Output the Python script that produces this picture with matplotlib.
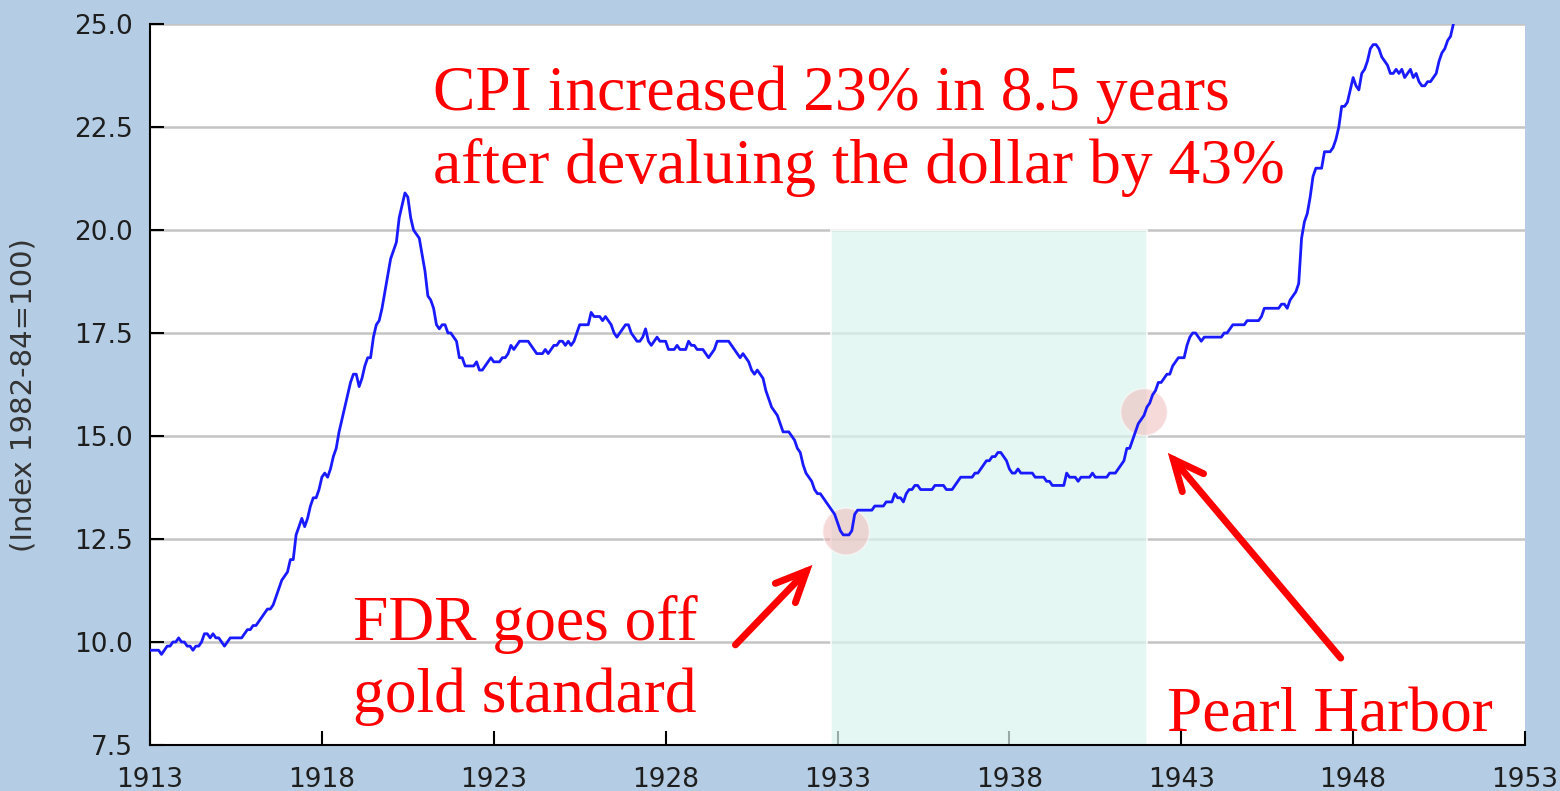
import numpy as np
import matplotlib
matplotlib.use("Agg")
import matplotlib.pyplot as plt
from matplotlib.patches import Rectangle, Ellipse

# monthly CPI (index 1982-84=100), Jan 1913 .. Dec 1950
start_year = 1913
cpi = [
    9.8, 9.8, 9.8, 9.8, 9.7, 9.8, 9.9, 9.9, 10.0, 10.0, 10.1, 10.0,      # 1913
    10.0, 9.9, 9.9, 9.8, 9.9, 9.9, 10.0, 10.2, 10.2, 10.1, 10.2, 10.1,   # 1914
    10.1, 10.0, 9.9, 10.0, 10.1, 10.1, 10.1, 10.1, 10.1, 10.2, 10.3, 10.3,  # 1915
    10.4, 10.4, 10.5, 10.6, 10.7, 10.8, 10.8, 10.9, 11.1, 11.3, 11.5, 11.6,  # 1916
    11.7, 12.0, 12.0, 12.6, 12.8, 13.0, 12.8, 13.0, 13.3, 13.5, 13.5, 13.7,  # 1917
    14.0, 14.1, 14.0, 14.2, 14.5, 14.7, 15.1, 15.4, 15.7, 16.0, 16.3, 16.5,  # 1918
    16.5, 16.2, 16.4, 16.7, 16.9, 16.9, 17.4, 17.7, 17.8, 18.1, 18.5, 18.9,  # 1919
    19.3, 19.5, 19.7, 20.3, 20.6, 20.9, 20.8, 20.3, 20.0, 19.9, 19.8, 19.4,  # 1920
    19.0, 18.4, 18.3, 18.1, 17.7, 17.6, 17.7, 17.7, 17.5, 17.5, 17.4, 17.3,  # 1921
    16.9, 16.9, 16.7, 16.7, 16.7, 16.7, 16.8, 16.6, 16.6, 16.7, 16.8, 16.9,  # 1922
    16.8, 16.8, 16.8, 16.9, 16.9, 17.0, 17.2, 17.1, 17.2, 17.3, 17.3, 17.3,  # 1923
    17.3, 17.2, 17.1, 17.0, 17.0, 17.0, 17.1, 17.0, 17.1, 17.2, 17.2, 17.3,  # 1924
    17.3, 17.2, 17.3, 17.2, 17.3, 17.5, 17.7, 17.7, 17.7, 17.7, 18.0, 17.9,  # 1925
    17.9, 17.9, 17.8, 17.9, 17.8, 17.7, 17.5, 17.4, 17.5, 17.6, 17.7, 17.7,  # 1926
    17.5, 17.4, 17.3, 17.3, 17.4, 17.6, 17.3, 17.2, 17.3, 17.4, 17.3, 17.3,  # 1927
    17.3, 17.1, 17.1, 17.1, 17.2, 17.1, 17.1, 17.1, 17.3, 17.2, 17.2, 17.1,  # 1928
    17.1, 17.1, 17.0, 16.9, 17.0, 17.1, 17.3, 17.3, 17.3, 17.3, 17.3, 17.2,  # 1929
    17.1, 17.0, 16.9, 17.0, 16.9, 16.8, 16.6, 16.5, 16.6, 16.5, 16.4, 16.1,  # 1930
    15.9, 15.7, 15.6, 15.5, 15.3, 15.1, 15.1, 15.1, 15.0, 14.9, 14.7, 14.6,  # 1931
    14.3, 14.1, 14.0, 13.9, 13.7, 13.6, 13.6, 13.5, 13.4, 13.3, 13.2, 13.1,  # 1932
    12.9, 12.7, 12.6, 12.6, 12.6, 12.7, 13.1, 13.2, 13.2, 13.2, 13.2, 13.2,  # 1933
    13.2, 13.3, 13.3, 13.3, 13.3, 13.4, 13.4, 13.4, 13.6, 13.5, 13.5, 13.4,  # 1934
    13.6, 13.7, 13.7, 13.8, 13.8, 13.7, 13.7, 13.7, 13.7, 13.7, 13.8, 13.8,  # 1935
    13.8, 13.8, 13.7, 13.7, 13.7, 13.8, 13.9, 14.0, 14.0, 14.0, 14.0, 14.0,  # 1936
    14.1, 14.1, 14.2, 14.3, 14.4, 14.4, 14.5, 14.5, 14.6, 14.6, 14.5, 14.4,  # 1937
    14.2, 14.1, 14.1, 14.2, 14.1, 14.1, 14.1, 14.1, 14.1, 14.0, 14.0, 14.0,  # 1938
    14.0, 13.9, 13.9, 13.8, 13.8, 13.8, 13.8, 13.8, 14.1, 14.0, 14.0, 14.0,  # 1939
    13.9, 14.0, 14.0, 14.0, 14.0, 14.1, 14.0, 14.0, 14.0, 14.0, 14.0, 14.1,  # 1940
    14.1, 14.1, 14.2, 14.3, 14.4, 14.7, 14.7, 14.9, 15.1, 15.3, 15.4, 15.5,  # 1941
    15.7, 15.8, 16.0, 16.1, 16.3, 16.3, 16.4, 16.5, 16.5, 16.7, 16.8, 16.9,  # 1942
    16.9, 16.9, 17.2, 17.4, 17.5, 17.5, 17.4, 17.3, 17.4, 17.4, 17.4, 17.4,  # 1943
    17.4, 17.4, 17.4, 17.5, 17.5, 17.6, 17.7, 17.7, 17.7, 17.7, 17.7, 17.8,  # 1944
    17.8, 17.8, 17.8, 17.8, 17.9, 18.1, 18.1, 18.1, 18.1, 18.1, 18.1, 18.2,  # 1945
    18.2, 18.1, 18.3, 18.4, 18.5, 18.7, 19.8, 20.2, 20.4, 20.8, 21.3, 21.5,  # 1946
    21.5, 21.5, 21.9, 21.9, 21.9, 22.0, 22.2, 22.5, 23.0, 23.0, 23.1, 23.4,  # 1947
    23.7, 23.5, 23.4, 23.8, 23.9, 24.1, 24.4, 24.5, 24.5, 24.4, 24.2, 24.1,  # 1948
    24.0, 23.8, 23.8, 23.9, 23.8, 23.9, 23.7, 23.8, 23.9, 23.7, 23.8, 23.6,  # 1949
    23.5, 23.5, 23.6, 23.6, 23.7, 23.8, 24.1, 24.3, 24.4, 24.6, 24.7, 25.0,  # 1950
]

x_ticks = [1913, 1918, 1923, 1928, 1933, 1938, 1943, 1948, 1953]
y_ticks = [7.5, 10.0, 12.5, 15.0, 17.5, 20.0, 22.5, 25.0]

# shaded period (gold devaluation -> Pearl Harbor)
shade_start, shade_end, shade_top = 1932.8, 1942.0, 20.0
fdr_month = (1933, 4)
pearl_month = (1941, 12)

dates = start_year + np.arange(len(cpi)) / 12.0
cpi = np.array(cpi)

def idx(ym):
    return (ym[0] - start_year) * 12 + ym[1] - 1

bg = '#b4cde4'
fig = plt.figure(figsize=(15.6, 7.91), dpi=100, facecolor=bg)
ax = fig.add_axes([150/1560, 46/791, 1375/1560, 721/791])
ax.set_facecolor('white')

ax.set_xlim(1913, 1953)
ax.set_ylim(7.5, 25.0)
ax.set_xticks(x_ticks)
ax.set_yticks(y_ticks)
ax.set_yticklabels(['%.1f' % v for v in y_ticks])
ax.yaxis.grid(True, color='#c4c4c4', lw=1.8, zorder=1)
ax.set_axisbelow(True)

for s in ['top', 'right']:
    ax.spines[s].set_visible(False)
for s in ['left', 'bottom']:
    ax.spines[s].set_color('black')
    ax.spines[s].set_linewidth(1.5)

ax.tick_params(axis='both', direction='in', length=10, width=1.5,
               colors='black', labelcolor='#1e1e1e', labelsize=19)
ax.tick_params(axis='x', pad=16)
ax.tick_params(axis='y', pad=12)

ax.add_patch(Rectangle((shade_start, 7.5), shade_end - shade_start, shade_top - 7.5,
                       facecolor='#dbf4ef', alpha=0.7, edgecolor='white',
                       lw=1.5, zorder=2))

# highlight circles
for ym in [fdr_month, pearl_month]:
    i = idx(ym)
    ax.add_patch(Ellipse((dates[i], cpi[i] + 0.08), 1.36, 1.14, facecolor='#efb4b4',
                         alpha=0.5, edgecolor='white', lw=1.2, zorder=3))

ax.plot(dates, cpi, color='#1a1aff', lw=2.0, zorder=4)

fig.text(24/1560, 1 - 395/791, '(Index 1982-84=100)', rotation=90,
         ha='center', va='center', fontsize=21, color='#333333')

red = '#ff0000'
serif = ['Liberation Serif', 'DejaVu Serif']
tsize = 45.7
fig.text(433/1560, 1 - 110/791, 'CPI increased 23% in 8.5 years',
         color=red, fontsize=tsize, family=serif, va='baseline')
fig.text(433/1560, 1 - 183/791, 'after devaluing the dollar by 43%',
         color=red, fontsize=tsize, family=serif, va='baseline')
fig.text(353/1560, 1 - 640/791, 'FDR goes off',
         color=red, fontsize=tsize, family=serif, va='baseline')
fig.text(353/1560, 1 - 712/791, 'gold standard',
         color=red, fontsize=tsize, family=serif, va='baseline')
fig.text(1167/1560, 1 - 732/791, 'Pearl Harbor',
         color=red, fontsize=tsize, family=serif, va='baseline')

arrow = dict(arrowstyle='->,head_length=2.2,head_width=1.0', color=red,
             lw=5, shrinkA=0, shrinkB=0, capstyle='round', joinstyle='miter')
ax.annotate('', xy=(1932.27, 11.87), xytext=(1930.03, 9.93), arrowprops=arrow)
ax.annotate('', xy=(1942.61, 14.59), xytext=(1947.64, 9.61), arrowprops=arrow)

fig.savefig('out.png', dpi=100, facecolor=bg)
